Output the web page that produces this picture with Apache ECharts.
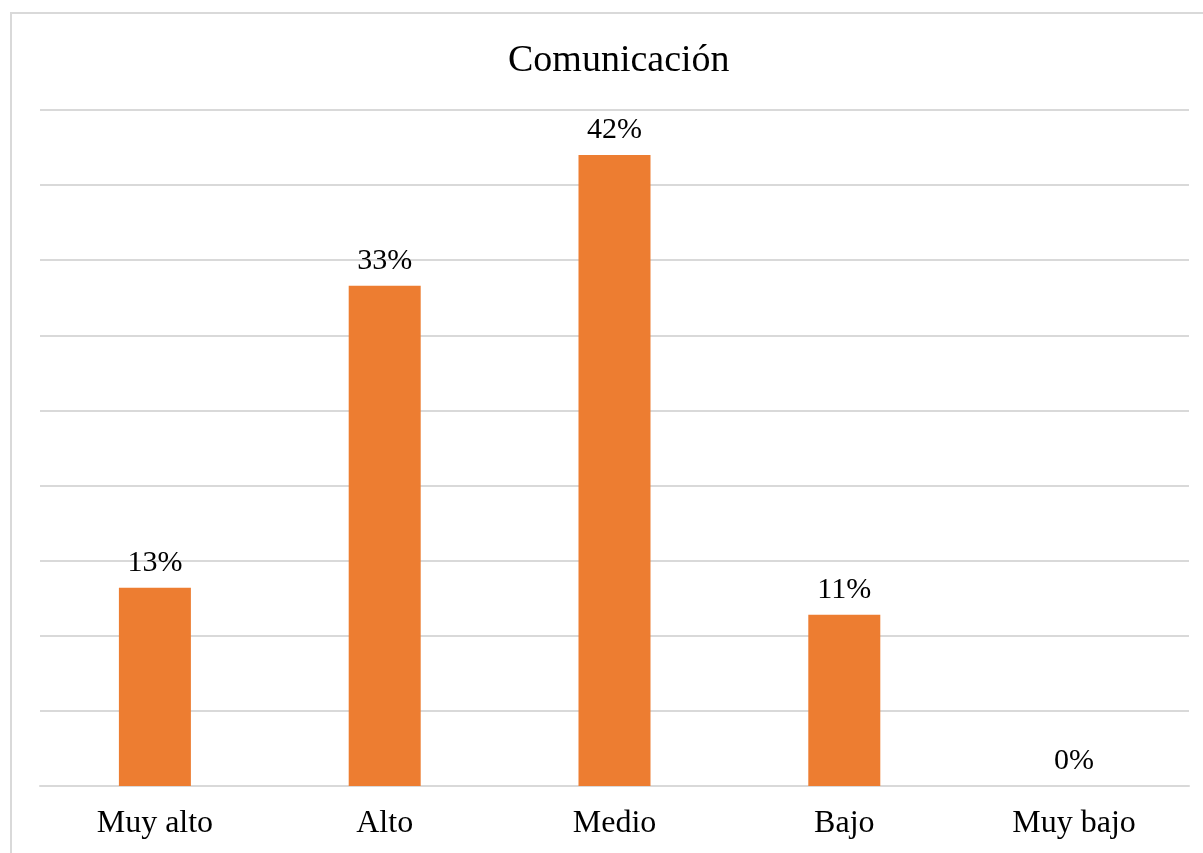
<!DOCTYPE html>
<html>
<head>
<meta charset="utf-8">
<script src="https://cdn.jsdelivr.net/npm/echarts@6/dist/echarts.min.js"></script>
<style>
  html, body { margin: 0; padding: 0; background: #fff; }
  #chart { width: 1203px; height: 853px; }
</style>
</head>
<body>
<div id="chart"></div>
<script>
var categories = ["Muy alto", "Alto", "Medio", "Bajo", "Muy bajo"];
var percents = [13.2, 33.3, 42, 11.4, 0];

var serif = "'Liberation Serif', 'Times New Roman', serif";
var myChart = echarts.init(document.getElementById("chart"));

var option = {
  animation: false,
  title: {
    text: "Comunicación",
    left: 503,
    top: 37,
    textStyle: { fontFamily: serif, fontSize: 38, fontWeight: "normal", color: "#000" }
  },
  graphic: [
    {
      type: "rect",
      shape: { x: 11, y: 13, width: 1400, height: 1000 },
      style: { fill: "none", stroke: "#d9d9d9", lineWidth: 2 },
      silent: true
    }
  ],
  grid: { left: 40, right: 14, top: 110, bottom: 67 },
  xAxis: {
    type: "category",
    data: categories,
    axisTick: { show: false },
    axisLine: { lineStyle: { color: "#d9d9d9", width: 2 } },
    axisLabel: { fontFamily: serif, fontSize: 32, color: "#000", margin: 22 }
  },
  yAxis: {
    type: "value",
    min: 0,
    max: 45,
    interval: 5,
    axisLabel: { show: false },
    axisLine: { show: false },
    axisTick: { show: false },
    splitLine: { lineStyle: { color: "#d9d9d9", width: 2 } }
  },
  series: [
    {
      type: "bar",
      data: percents,
      barWidth: 72,
      itemStyle: { color: "#ED7D31" },
      label: {
        show: true,
        position: "top",
        distance: 10,
        fontFamily: serif,
        fontSize: 30,
        color: "#000",
        formatter: function (p) { return Math.round(p.value) + "%"; }
      }
    }
  ]
};

option && myChart.setOption(option);
</script>
</body>
</html>
